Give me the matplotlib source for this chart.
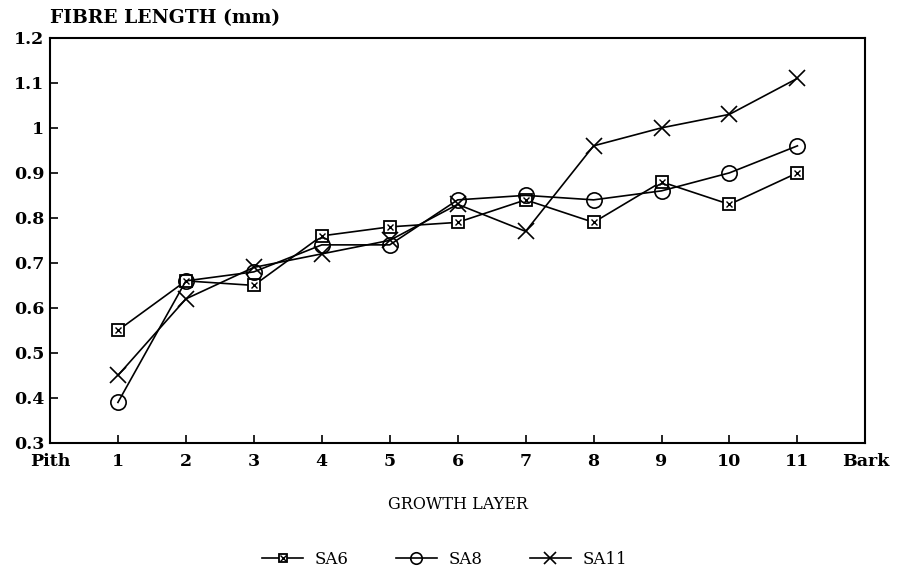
import matplotlib
matplotlib.use('Agg')
import matplotlib.pyplot as plt
from matplotlib.legend_handler import HandlerTuple

layers = [1, 2, 3, 4, 5, 6, 7, 8, 9, 10, 11]
sa6 = [0.55, 0.66, 0.65, 0.76, 0.78, 0.79, 0.84, 0.79, 0.88, 0.83, 0.90]
sa8 = [0.39, 0.66, 0.68, 0.74, 0.74, 0.84, 0.85, 0.84, 0.86, 0.90, 0.96]
sa11 = [0.45, 0.62, 0.69, 0.72, 0.75, 0.83, 0.77, 0.96, 1.00, 1.03, 1.11]
xtick_labels = ['Pith', '1', '2', '3', '4', '5', '6', '7', '8', '9', '10', '11', 'Bark']
yticks = [0.3, 0.4, 0.5, 0.6, 0.7, 0.8, 0.9, 1.0, 1.1, 1.2]
ytick_labels = ['0.3', '0.4', '0.5', '0.6', '0.7', '0.8', '0.9', '1', '1.1', '1.2']

plt.rcParams['font.family'] = ['DejaVu Serif']

fig = plt.figure(figsize=(9.02, 5.73), dpi=100)
ax = fig.add_axes([0.0554, 0.227, 0.904, 0.707])

l6, = ax.plot(layers, sa6, color='black', lw=1.2, marker='s', ms=8, mfc='white', mec='black', mew=1.3)
x6, = ax.plot(layers, sa6, color='black', lw=0, marker='x', ms=5, mew=1.0)
l8, = ax.plot(layers, sa8, color='black', lw=1.2, marker='o', ms=11, mfc='none', mec='black', mew=1.2)
l11, = ax.plot(layers, sa11, color='black', lw=1.2, marker='x', ms=11, mew=1.2)

ax.set_xlim(0, 12)
ax.set_ylim(0.3, 1.2)
ax.set_xticks(range(13))
ax.set_xticklabels(xtick_labels)
ax.set_yticks(yticks)
ax.set_yticklabels(ytick_labels)
ax.tick_params(direction='in', length=6, width=1.2, labelsize=12.5)
ax.tick_params(axis='x', pad=7)
ax.tick_params(axis='y', pad=4)
for lab in ax.get_xticklabels() + ax.get_yticklabels():
    lab.set_fontweight('bold')
for s in ax.spines.values():
    s.set_linewidth(1.5)

ax.set_xlabel('GROWTH LAYER', fontsize=11.5, labelpad=19)
fig.text(0.0554, 0.968, 'FIBRE LENGTH (mm)', fontsize=13.5, fontweight='bold', ha='left', va='center')

fig.legend([(l6, x6), l8, l11], ['SA6', 'SA8', 'SA11'],
           handler_map={tuple: HandlerTuple(ndivide=1)},
           loc='center', bbox_to_anchor=(0.493, 0.023), ncol=3, frameon=False,
           fontsize=12, handlelength=2.5, handletextpad=0.7, columnspacing=2.8, markerscale=0.75)

fig.savefig('out.png', dpi=100)
